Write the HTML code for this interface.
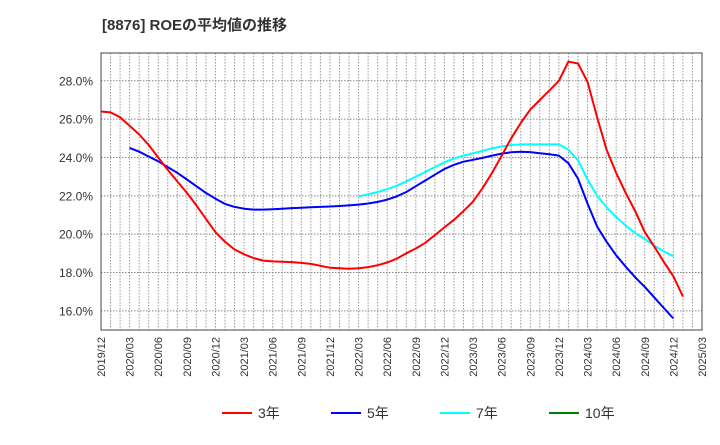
<!DOCTYPE html>
<html><head><meta charset="utf-8"><style>
body{margin:0;background:#fff;font-family:"Liberation Sans","Noto Sans CJK JP",sans-serif;}
</style></head><body>
<svg width="720" height="440" xmlns="http://www.w3.org/2000/svg" font-family="Liberation Sans, Noto Sans CJK JP, sans-serif">
<text x="102" y="30" font-size="15" font-weight="bold" fill="#333">[8876]  ROEの平均値の推移</text>
<g id="grid"></g>
<g id="series"></g>
<rect x="101" y="53" width="601" height="277" fill="none" stroke="#444" stroke-width="1"/>
<g id="axes"></g>
<g id="legend" font-size="14" fill="#333"></g>
</svg>
<script>
const xLabels=["2019/12","2020/03","2020/06","2020/09","2020/12","2021/03","2021/06","2021/09","2021/12","2022/03","2022/06","2022/09","2022/12","2023/03","2023/06","2023/09","2023/12","2024/03","2024/06","2024/09","2024/12","2025/03"];
const yTicks=[16,18,20,22,24,26,28];
const s3=[26.4,26.35,26.1,25.65,25.2,24.65,24.0,23.35,22.75,22.15,21.5,20.8,20.1,19.6,19.2,18.95,18.75,18.62,18.58,18.56,18.54,18.5,18.45,18.35,18.25,18.22,18.2,18.22,18.28,18.38,18.52,18.72,19.0,19.25,19.55,19.95,20.35,20.75,21.2,21.7,22.4,23.2,24.1,25.0,25.8,26.5,27.0,27.5,28.0,29.0,28.9,27.95,26.1,24.4,23.2,22.15,21.2,20.1,19.35,18.55,17.8,16.75];
const s5=[null,null,null,24.5,24.3,24.05,23.8,23.5,23.2,22.85,22.5,22.15,21.85,21.58,21.42,21.33,21.28,21.28,21.3,21.33,21.36,21.38,21.4,21.42,21.44,21.47,21.5,21.54,21.6,21.68,21.8,21.97,22.2,22.5,22.8,23.1,23.4,23.62,23.78,23.88,23.98,24.1,24.2,24.27,24.3,24.28,24.22,24.17,24.1,23.7,22.9,21.6,20.4,19.6,18.9,18.3,17.75,17.25,16.7,16.15,15.6];
const s7=[null,null,null,null,null,null,null,null,null,null,null,null,null,null,null,null,null,null,null,null,null,null,null,null,null,null,null,21.97,22.08,22.2,22.35,22.52,22.75,23.0,23.25,23.5,23.75,23.95,24.1,24.22,24.35,24.48,24.58,24.65,24.68,24.68,24.68,24.68,24.68,24.4,23.85,22.85,22.0,21.4,20.9,20.45,20.05,19.75,19.4,19.1,18.85];
const NS="http://www.w3.org/2000/svg";
const X0=101,X1=702,Y0=53,Y1=330,VMIN=15.0,VMAX=29.45,NM=63;
const xs=i=>X0+(X1-X0)*i/NM;
const ys=v=>Y1-(v-VMIN)/(VMAX-VMIN)*(Y1-Y0);
function mk(tag,attrs,parent){const e=document.createElementNS(NS,tag);for(const k in attrs)e.setAttribute(k,attrs[k]);parent.appendChild(e);return e;}
const grid=document.getElementById('grid'),axes=document.getElementById('axes');
for(let m=1;m<NM;m++){const l=mk('line',{x1:xs(m),x2:xs(m),y1:Y0,y2:Y1,stroke:'#999','stroke-width':1,'stroke-dasharray':'1.5,1.5'},grid);

}
yTicks.forEach(v=>{const l=mk('line',{x1:X0,x2:X1,y1:ys(v),y2:ys(v),stroke:'#888','stroke-width':1,'stroke-dasharray':'1.5,1.5'},grid);


const t=mk('text',{x:X0-8,y:ys(v)+4.5,'text-anchor':'end','font-size':12,fill:'#333'},axes);t.textContent=v.toFixed(1)+'%';

});
xLabels.forEach((lab,i)=>{const x=xs(i*3);const t=mk('text',{x:0,y:0,transform:`translate(${x+4},${Y1+7}) rotate(-90)`,'text-anchor':'end','font-size':11,fill:'#333'},axes);t.textContent=lab;

});
const ser=document.getElementById('series');
function draw(arr,color,name){let d='';let pen=false;for(let i=0;i<arr.length;i++){const v=arr[i];if(v==null){pen=false;continue;}d+=(pen?'L':'M')+xs(i).toFixed(1)+','+ys(v).toFixed(1);pen=true;}
const p=mk('path',{d:d,fill:'none',stroke:color,'stroke-width':2,'stroke-linejoin':'round'},ser);

}
draw(s7,'#00ffff','line-7yr');
draw(s5,'#0000ff','line-5yr');
draw(s3,'#ff0000','line-3yr');
const lg=document.getElementById('legend');
[['3年','#ff0000',222],['5年','#0000ff',331],['7年','#00ffff',440],['10年','#008000',549]].forEach(([lab,c,x])=>{
const l=mk('line',{x1:x,x2:x+30,y1:413,y2:413,stroke:c,'stroke-width':2},lg);


const t=mk('text',{x:x+36,y:418},lg);t.textContent=lab;

});
</script>
</body></html>
